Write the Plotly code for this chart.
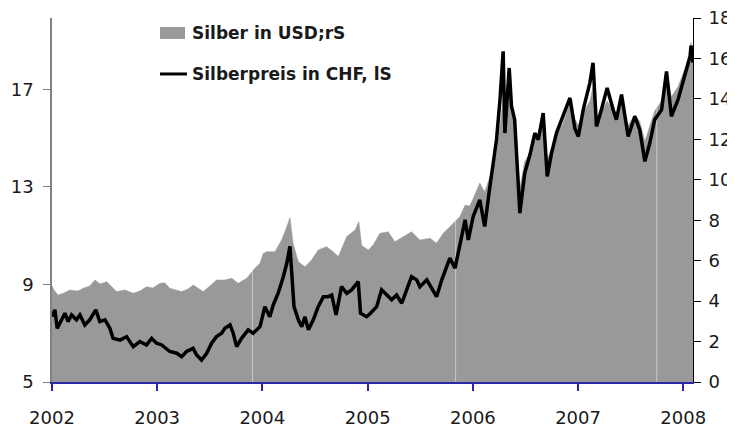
import numpy as np
import pandas as pd
import plotly.graph_objects as go

# ---- data ----
usd_dates = [
    "2002-01-01", "2002-01-08", "2002-01-22", "2002-02-11", "2002-03-04", "2002-04-01",
    "2002-04-19", "2002-05-12", "2002-05-30", "2002-06-17", "2002-07-10", "2002-08-13",
    "2002-09-11", "2002-10-10", "2002-11-02", "2002-11-25", "2002-12-17", "2003-01-11",
    "2003-01-28", "2003-02-14", "2003-03-27", "2003-04-18", "2003-05-06", "2003-06-10",
    "2003-07-03", "2003-07-26", "2003-08-24", "2003-09-17", "2003-10-09", "2003-11-08",
    "2003-12-06", "2003-12-24", "2004-01-04", "2004-01-16", "2004-02-14", "2004-03-08",
    "2004-03-26", "2004-04-06", "2004-04-17", "2004-05-05", "2004-05-28", "2004-06-20",
    "2004-07-13", "2004-08-11", "2004-09-03", "2004-09-21", "2004-10-20", "2004-11-18",
    "2004-12-01", "2004-12-11", "2005-01-03", "2005-01-20", "2005-02-12", "2005-03-13",
    "2005-04-05", "2005-05-04", "2005-06-02", "2005-07-01", "2005-08-05", "2005-08-28",
    "2005-09-20", "2005-10-19", "2005-11-17", "2005-12-05", "2005-12-21", "2006-01-02",
    "2006-01-25", "2006-02-11", "2006-03-01", "2006-03-24", "2006-04-05", "2006-04-16",
    "2006-04-22", "2006-05-07", "2006-05-15", "2006-05-26", "2006-06-13", "2006-06-30",
    "2006-07-18", "2006-08-04", "2006-08-16", "2006-09-02", "2006-09-16", "2006-10-01",
    "2006-10-18", "2006-11-10", "2006-12-04", "2006-12-21", "2007-01-02", "2007-01-19",
    "2007-02-11", "2007-02-22", "2007-03-06", "2007-03-23", "2007-04-12", "2007-05-03",
    "2007-05-14", "2007-06-01", "2007-06-24", "2007-07-17", "2007-08-03", "2007-08-21",
    "2007-09-07", "2007-09-24", "2007-10-18", "2007-11-04", "2007-11-21", "2007-12-14",
    "2008-01-07", "2008-01-25", "2008-01-28", "2008-02-04",
]
usd_values = [
    4.75, 4.55, 4.30, 4.40, 4.55, 4.50,
    4.63, 4.75, 5.04, 4.85, 4.96, 4.47,
    4.55, 4.39, 4.50, 4.71, 4.65, 4.88,
    4.90, 4.63, 4.47, 4.60, 4.80, 4.47,
    4.75, 5.04, 5.05, 5.13, 4.88, 5.13,
    5.62, 5.87, 6.36, 6.44, 6.44, 7.02,
    7.68, 8.13, 6.85, 5.95, 5.70, 6.03,
    6.53, 6.69, 6.44, 6.20, 7.19, 7.52,
    7.93, 6.75, 6.53, 6.78, 7.35, 7.43,
    6.94, 7.19, 7.43, 7.02, 7.11, 6.86,
    7.35, 7.76, 8.18, 8.75, 8.70, 9.08,
    9.84, 9.40, 10.15, 11.30, 12.60, 14.00,
    12.30, 14.60, 13.50, 12.70, 9.60, 10.90,
    11.30, 12.20, 12.00, 12.80, 11.00, 11.60,
    12.20, 12.80, 13.80, 13.00, 12.70, 13.30,
    13.90, 14.60, 12.90, 13.30, 13.90, 13.40,
    13.10, 13.70, 12.70, 13.20, 12.90, 11.90,
    12.60, 13.40, 13.90, 15.30, 14.10, 14.60,
    15.50, 16.30, 16.80, 16.20,
]

chf_dates = [
    "2002-01-01", "2002-01-11", "2002-01-19", "2002-02-03", "2002-02-15", "2002-02-26",
    "2002-03-10", "2002-03-27", "2002-04-08", "2002-04-25", "2002-05-12", "2002-06-02",
    "2002-06-16", "2002-07-04", "2002-07-21", "2002-08-01", "2002-08-25", "2002-09-17",
    "2002-10-10", "2002-11-02", "2002-11-25", "2002-12-13", "2002-12-30", "2003-01-17",
    "2003-02-14", "2003-03-10", "2003-03-27", "2003-04-13", "2003-05-06", "2003-05-18",
    "2003-06-04", "2003-06-22", "2003-07-09", "2003-07-26", "2003-08-13", "2003-08-24",
    "2003-09-11", "2003-09-22", "2003-10-04", "2003-10-21", "2003-11-13", "2003-11-30",
    "2003-12-18", "2003-12-24", "2004-01-10", "2004-01-27", "2004-02-08", "2004-02-25",
    "2004-03-14", "2004-03-26", "2004-04-06", "2004-04-14", "2004-04-20", "2004-05-05",
    "2004-05-17", "2004-05-28", "2004-06-09", "2004-06-26", "2004-07-13", "2004-07-31",
    "2004-08-17", "2004-08-29", "2004-09-13", "2004-10-02", "2004-10-20", "2004-11-06",
    "2004-11-29", "2004-12-07", "2004-12-28", "2005-01-09", "2005-02-01", "2005-02-18",
    "2005-03-08", "2005-03-25", "2005-04-11", "2005-04-29", "2005-05-16", "2005-06-02",
    "2005-06-20", "2005-07-01", "2005-07-25", "2005-08-11", "2005-08-28", "2005-09-15",
    "2005-10-02", "2005-10-13", "2005-10-31", "2005-11-17", "2005-12-05", "2005-12-16",
    "2006-01-02", "2006-01-25", "2006-02-11", "2006-03-01", "2006-03-24", "2006-04-05",
    "2006-04-16", "2006-04-22", "2006-05-07", "2006-05-15", "2006-05-26", "2006-06-13",
    "2006-06-30", "2006-07-18", "2006-08-04", "2006-08-16", "2006-09-02", "2006-09-16",
    "2006-10-01", "2006-10-18", "2006-11-10", "2006-12-04", "2006-12-21", "2007-01-02",
    "2007-01-19", "2007-02-11", "2007-02-22", "2007-03-06", "2007-03-23", "2007-04-12",
    "2007-05-03", "2007-05-14", "2007-06-01", "2007-06-24", "2007-07-17", "2007-08-03",
    "2007-08-21", "2007-09-07", "2007-09-24", "2007-10-18", "2007-11-04", "2007-11-21",
    "2007-12-14", "2008-01-07", "2008-01-25", "2008-01-28", "2008-02-04",
]
chf_values = [
    7.68, 7.96, 7.20, 7.55, 7.82, 7.48,
    7.75, 7.55, 7.75, 7.34, 7.55, 7.96,
    7.48, 7.55, 7.20, 6.79, 6.72, 6.86,
    6.45, 6.66, 6.52, 6.79, 6.59, 6.52,
    6.25, 6.18, 6.04, 6.25, 6.38, 6.11,
    5.90, 6.18, 6.59, 6.86, 7.00, 7.20,
    7.34, 7.00, 6.45, 6.79, 7.14, 7.00,
    7.20, 7.27, 8.09, 7.68, 8.16, 8.64,
    9.32, 9.87, 10.56, 9.32, 8.09, 7.55,
    7.27, 7.68, 7.14, 7.55, 8.09, 8.50,
    8.50, 8.57, 7.75, 8.91, 8.64, 8.78,
    9.12, 7.82, 7.68, 7.80, 8.09, 8.78,
    8.57, 8.37, 8.57, 8.23, 8.78, 9.32,
    9.19, 8.91, 9.19, 8.85, 8.50, 9.19,
    9.73, 10.08, 9.67, 10.56, 11.65, 10.83,
    11.79, 12.47, 11.38, 13.02, 14.94, 16.58,
    18.56, 15.21, 17.88, 16.31, 15.76, 11.93,
    13.57, 14.32, 15.21, 14.94, 16.03, 13.43,
    14.39, 15.21, 15.90, 16.65, 15.40, 15.07,
    16.17, 17.27, 18.09, 15.48, 16.17, 17.06,
    16.17, 15.76, 16.79, 15.07, 15.90, 15.35,
    14.05, 14.80, 15.76, 16.17, 17.74, 15.90,
    16.58, 17.54, 18.36, 18.80, 18.10,
]

x_tick_vals = ["2002-01-01", "2003-01-01", "2004-01-01", "2005-01-01",
               "2006-01-01", "2007-01-01", "2008-01-01"]
x_tick_text = ["2002", "2003", "2004", "2005", "2006", "2007", "2008"]
left_ticks = [5, 9, 13, 17]
right_ticks = [0, 2, 4, 6, 8, 10, 12, 14, 16, 18]
gap_dates = ["2003-11-28", "2005-11-02", "2007-10-01"]

name_usd = "Silber in USD;rS"
name_chf = "Silberpreis in CHF, lS"

# ---- styles ----
FONT = "DejaVu Sans"
GRAY = "#999999"
BLUE = "#2a2aa6"
TXT = "#1a1a1a"

fig = go.Figure()

# grey area on the primary axis (drawn at the right side), black line on the overlay
fig.add_trace(go.Scatter(
    x=usd_dates, y=usd_values, yaxis="y", name=name_usd,
    mode="lines", line=dict(color=GRAY, width=0.5), fill="tozeroy",
    fillcolor=GRAY, showlegend=False,
))

usd_ts = pd.to_datetime(usd_dates).astype("int64")
for d in gap_dates:
    top = float(np.interp(pd.Timestamp(d).value, usd_ts, usd_values))
    fig.add_trace(go.Scatter(
        x=[d, d], y=[0, top], yaxis="y", mode="lines",
        line=dict(color="#c8c8c8", width=1), showlegend=False, hoverinfo="skip",
    ))

fig.add_trace(go.Scatter(
    x=chf_dates, y=chf_values, yaxis="y2", name=name_chf,
    mode="lines", line=dict(color="#000000", width=3.5), showlegend=False,
))

# ---- manual legend ----
fig.add_shape(type="rect", xref="paper", yref="paper",
              x0=0.1685, x1=0.2075, y0=0.9423, y1=0.9753,
              fillcolor=GRAY, line=dict(width=0))
fig.add_shape(type="line", xref="paper", yref="paper",
              x0=0.1685, x1=0.2105, y0=0.8462, y1=0.8462,
              line=dict(color="#000000", width=3))
fig.add_annotation(xref="paper", yref="paper", x=0.2153, y=0.9588,
                   xanchor="left", yanchor="middle", showarrow=False,
                   text=name_usd, font=dict(family=FONT, size=17, color=TXT, weight=700))
fig.add_annotation(xref="paper", yref="paper", x=0.2153, y=0.8462,
                   xanchor="left", yanchor="middle", showarrow=False,
                   text=name_chf, font=dict(family=FONT, size=17, color=TXT, weight=700))

# page body has an 8px margin: size the figure so the plot lands where the reference has it
fig.update_layout(
    width=727, height=419,
    margin=dict(l=44, r=42, t=10, b=45, autoexpand=False),
    paper_bgcolor="white", plot_bgcolor="white",
    font=dict(family=FONT, size=18, color=TXT),
    xaxis=dict(
        type="date", range=["2002-01-01", "2008-02-04"],
        tickmode="array", tickvals=x_tick_vals, ticktext=x_tick_text,
        ticks="outside", ticklen=7, tickcolor=BLUE, tickwidth=1.5,
        showline=True, linecolor=BLUE, linewidth=1.5,
        showgrid=False, zeroline=False, ticklabelstandoff=12,
        tickfont=dict(family=FONT, size=18, color=TXT),
    ),
    yaxis=dict(
        range=[0, 18], side="right",
        tickmode="array", tickvals=right_ticks,
        ticks="outside", ticklen=7, tickcolor="#000000",
        showline=True, linecolor="#000000", linewidth=1,
        showgrid=False, zeroline=False, ticklabelstandoff=4,
        ticklabeloverflow="allow",
        tickfont=dict(family=FONT, size=18, color=TXT),
    ),
    yaxis2=dict(
        range=[5, 19.93], overlaying="y", side="left",
        tickmode="array", tickvals=left_ticks,
        ticks="outside", ticklen=7, tickcolor="#808080",
        showline=True, linecolor="#808080", linewidth=1.5,
        showgrid=False, zeroline=False, ticklabelstandoff=6,
        ticklabeloverflow="allow",
        tickfont=dict(family=FONT, size=18, color=TXT),
    ),
)

fig.write_html("out.html")
